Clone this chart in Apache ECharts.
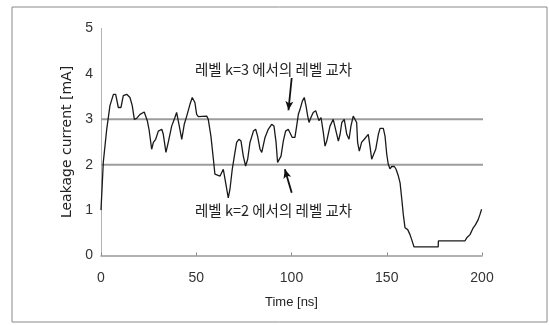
<!DOCTYPE html>
<html>
<head>
<meta charset="utf-8">
<script src="https://cdn.jsdelivr.net/npm/echarts@6/dist/echarts.min.js"></script>
<style>
  html, body { margin: 0; padding: 0; background: #fff; }
  #chart { width: 549px; height: 325px; }
</style>
</head>
<body>
<div id="chart"></div>
<script>
// 시간 [ns]
const timeNs = [0, 1.2, 3, 4.7, 6.5, 7.7, 9.1, 10.5, 11.7, 13.5, 15.2, 16.4, 17.5, 18.7, 20.5, 22.7, 23.6, 24.3, 25.2, 26.6,
  27.5, 28.7, 30.1, 31.9, 32.7, 34.1, 35.3, 37.1, 38.8, 39.7, 40.6, 41.1, 42.4, 43.7, 45, 46.7, 47.9, 49.3, 50.2, 51.1,
  55.5, 56.3, 57.7, 59, 59.8, 60.7, 62.5, 63.3, 64.2, 65.1, 66.8, 67.7, 68.9, 70, 71.2, 72.4, 73.5, 74.7, 75.9, 77,
  78.2, 80, 81.2, 82.2, 83.5, 84.4, 86.1, 87.8, 89.6, 90.8, 91.9, 92.7, 93.6, 94.5, 95.7, 96.9, 98.3, 99.2, 100.4, 101.8,
  102.7, 103.6, 104.5, 105.7, 106.7, 107.6, 108.5, 109.2, 110.2, 111.4, 112.7, 113.7, 114.4, 115.5, 116.7, 117.6, 118.5, 120.2, 121.9, 122.8,
  124.6, 125.5, 126.4, 127.7, 129, 130.2, 131.2, 132.4, 133.3, 134.2, 134.7, 135.6, 136.8, 138.2, 139.1, 140.3, 141.2, 142.1, 143, 144.2,
  145.6, 146.5, 148.2, 149.1, 150, 150.8, 151.7, 152.6, 154, 154.9, 156.1, 157, 157.9, 158.7, 159.6, 161, 162.2, 163.1, 164.3, 177,
  177.1, 191, 192, 193.7, 195.4, 196.6, 198, 198.9, 199.8];
// 누설 전류 [mA]
const leakage = [1.0, 2.05, 2.78, 3.3, 3.55, 3.55, 3.26, 3.26, 3.52, 3.55, 3.48, 3.3, 3.0, 3.02, 3.11, 3.16, 3.15, 2.97, 2.78, 2.34,
  2.49, 2.56, 2.74, 2.78, 2.67, 2.27, 2.49, 2.85, 3.04, 3.15, 3.11, 2.85, 2.56, 2.89, 3.07, 3.33, 3.48, 3.37, 3.11, 3.06,
  3.07, 3.0, 2.63, 2.12, 1.79, 1.75, 1.75, 1.79, 1.9, 1.68, 1.27, 1.46, 1.9, 2.19, 2.49, 2.56, 2.52, 2.19, 1.97, 2.12,
  2.49, 2.74, 2.78, 2.63, 2.34, 2.27, 2.6, 2.78, 2.89, 2.85, 2.49, 2.05, 2.01, 2.19, 2.52, 2.74, 2.78, 2.74, 2.6, 2.6,
  2.85, 3.11, 3.22, 3.4, 3.48, 3.3, 3.07, 2.93, 3.04, 3.15, 3.19, 3.15, 2.97, 3.04, 2.71, 2.41, 2.52, 2.85, 3.0, 2.97,
  2.52, 2.67, 2.93, 3.0, 2.67, 2.56, 2.85, 3.07, 3.11, 2.93, 2.49, 2.3, 2.49, 2.56, 2.6, 2.67, 2.41, 2.12, 2.08, 2.34,
  2.67, 2.8, 2.8, 2.63, 2.23, 2.01, 1.91, 1.96, 1.96, 1.9, 1.75, 1.6, 1.24, 0.9, 0.61, 0.57, 0.46, 0.35, 0.19, 0.19,
  0.32, 0.32, 0.39, 0.46, 0.61, 0.68, 0.79, 0.9, 1.02];

// 레벨 (k=2, k=3)
const levels = [2, 3];
const levelEnd = 203;
// 화살표: [시작, 끝] (데이터 좌표)
const arrowK3 = [[100.1, 3.91], [98.4, 3.2]];
const arrowK2 = [[100.1, 1.38], [96.5, 1.9]];

const points = timeNs.map((t, i) => [t, leakage[i]]);

const chart = echarts.init(document.getElementById('chart'));
const baseFont = '"Liberation Sans", Arial, sans-serif';
const krFont = '"Noto Sans CJK KR", "Liberation Sans", sans-serif';

chart.setOption({
  animation: false,
  backgroundColor: '#fff',
  grid: { left: 101, right: 67, top: 28.5, bottom: 69.5 },
  xAxis: {
    type: 'value',
    min: 0, max: 200, interval: 50,
    name: 'Time [ns]',
    nameLocation: 'middle',
    nameGap: 40,
    nameTextStyle: { fontFamily: baseFont, fontSize: 13, color: '#222' },
    axisLine: { show: true, lineStyle: { color: '#999', width: 1.5 } },
    axisTick: { show: true, inside: true, length: 3, lineStyle: { color: '#888' } },
    axisLabel: { margin: 16, fontFamily: baseFont, fontSize: 14, color: '#333' },
    splitLine: { show: false }
  },
  yAxis: {
    type: 'value',
    min: 0, max: 5, interval: 1,
    name: 'Leakage current [mA]',
    nameLocation: 'middle',
    nameGap: 17,
    nameTextStyle: { fontFamily: '"DejaVu Sans", sans-serif', fontSize: 14, color: '#222' },
    axisLine: { show: true, lineStyle: { color: '#aaa', width: 1, type: 'dotted' } },
    axisTick: { show: false },
    axisLabel: { margin: 8, fontFamily: baseFont, fontSize: 14, color: '#333' },
    splitLine: { show: false }
  },
  series: [
    ...levels.map(lv => ({
      type: 'line',
      data: [[0, lv], [levelEnd, lv]],
      clip: false,
      symbol: 'none',
      lineStyle: { color: '#9c9c9c', width: 2 },
      z: 1
    })),
    {
      type: 'line',
      data: points,
      symbol: 'none',
      lineStyle: { color: '#1a1a1a', width: 1.3 },
      z: 3
    },
    {
      type: 'line',
      data: [],
      symbol: 'none',
      markLine: {
        silent: true,
        symbol: ['none', 'arrow'],
        symbolSize: [6, 9],
        label: { show: false },
        lineStyle: { color: '#111', width: 1.8, type: 'solid' },
        data: [
          [{ coord: arrowK3[0] }, { coord: arrowK3[1] }],
          [{ coord: arrowK2[0] }, { coord: arrowK2[1] }]
        ]
      },
      z: 4
    }
  ],
  graphic: [
    {
      type: 'rect',
      shape: { x: 12, y: 7, width: 535, height: 315 },
      style: { fill: 'none', stroke: '#8a8a8a', lineWidth: 1 },
      silent: true
    },
    {
      type: 'text',
      left: 195, top: 62,
      style: { text: '레벨 k=3 에서의 레벨 교차', font: '14.5px ' + krFont, fill: '#222' }
    },
    {
      type: 'text',
      left: 195, top: 203,
      style: { text: '레벨 k=2 에서의 레벨 교차', font: '14.5px ' + krFont, fill: '#222' }
    }
  ]
});
</script>
</body>
</html>
